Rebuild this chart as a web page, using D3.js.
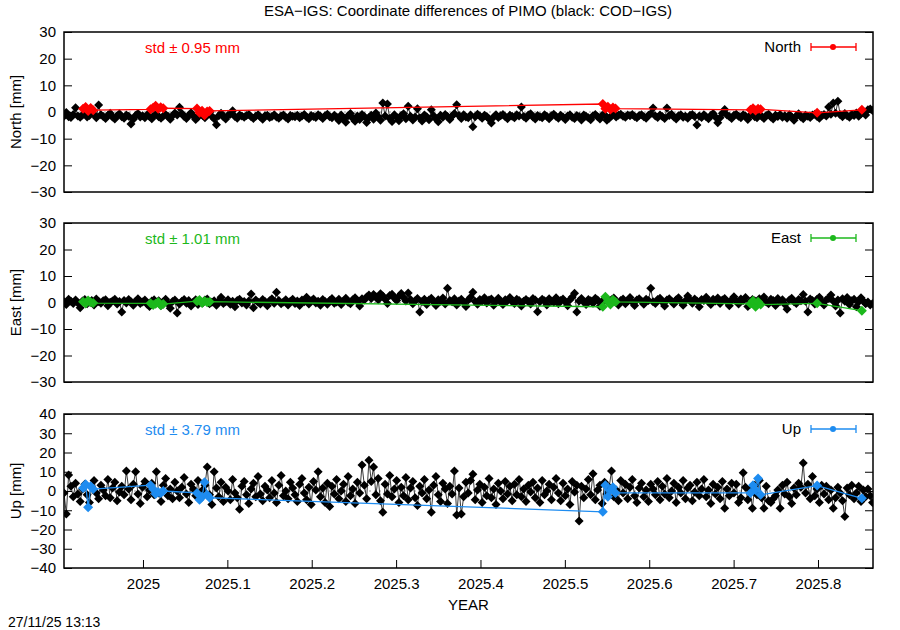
<!DOCTYPE html>
<html>
<head>
<meta charset="utf-8">
<script src="https://cdn.jsdelivr.net/npm/d3@7/dist/d3.min.js"></script>
<style>
  body { margin: 0; background: #fff; }
  text { font-family: "Liberation Sans", Arial, sans-serif; }
</style>
</head>
<body>
<svg id="chart" width="900" height="630"></svg>
<script>
// daily COD-IGS differences (black), first day at startYear
const startYear = 2024.9064;
const endYear = 2025.8652;

const northCod = [
  -1.6,-0.2,-1.8,-2.1,-0.9,1.6,-1.5,-2.0,-1.1,-0.4,-1.9,-1.3,0.2,-0.8,-2.2,2.6,-1.0,-1.7,-2.4,-1.2,-0.5,-1.9,-2.6,-1.4,-0.7,-1.8,-2.3,-1.1,-1.6,-4.5,-2.7,-1.3,-0.6,-1.9,-1.4,-2.2,-1.0,-1.7,-2.5,-1.2,-0.8,-1.8,-2.3,-1.5,-0.9,-1.6,-2.7,-1.3,-0.4,-1.1,
  1.8,-0.6,-1.7,-2.4,-1.2,-0.3,-1.5,-2.8,-1.9,-0.7,-1.3,-2.2,-1.0,-0.2,-1.6,-2.5,-4.8,-1.4,-0.5,-1.8,-2.6,-1.2,-0.8,0.5,-1.7,-2.3,-1.1,-1.5,-2.0,-1.3,-0.9,-1.8,-2.4,-1.6,-1.0,-1.9,-2.7,-1.4,-1.2,-2.1,-1.7,-1.0,-1.9,-2.3,-1.5,-1.1,-2.0,-2.6,-1.3,-1.6,
  -1.8,-1.2,-2.2,-1.5,-0.9,-1.9,-2.5,-1.3,-1.7,-2.1,-1.0,-1.6,-2.4,-1.4,-0.8,-1.8,-2.2,-1.2,-1.9,-3.2,-1.1,-2.6,-3.8,-1.4,-0.6,-2.3,-3.5,-1.5,-2.8,-0.9,-1.7,-3.9,-2.1,-1.2,-2.7,-0.4,-1.8,-3.1,3.4,-1.5,3.0,-2.4,-3.6,-1.0,-2.0,-3.3,-1.3,-0.7,-2.5,2.2,
  -1.6,-3.0,-1.9,1.2,-2.2,-3.4,-1.1,-1.8,-2.9,0.8,-1.4,-2.5,-3.7,-1.2,-2.0,-0.9,-1.7,-2.8,-1.5,-0.6,2.7,-1.3,-2.4,-1.0,-1.9,-2.2,-1.1,-5.5,-1.8,-0.8,-1.5,-2.3,-1.2,-1.7,-2.6,-4.1,-1.9,-1.0,-2.1,-1.4,-0.9,-1.8,-2.5,-1.2,-1.6,-2.2,-1.0,-1.5,1.9,-1.7,
  -2.3,-1.1,-0.7,-1.9,-2.6,-1.3,-1.8,-2.2,-1.0,-1.6,-2.5,-1.4,-0.8,-1.7,-2.3,-1.2,-1.9,-2.8,-1.5,-1.0,-2.0,-2.4,-1.3,-1.7,-3.0,-1.1,-1.6,-2.2,-2.9,-1.4,-0.9,-1.8,-2.6,-1.2,-1.0,-3.1,-2.3,-1.5,-0.6,-1.9,-1.2,-0.8,-1.6,-2.0,-1.1,-1.4,-0.9,-1.7,-2.2,-1.3,
  -1.0,-1.8,-2.3,-1.2,-0.7,1.5,-1.5,-2.1,-1.1,-1.7,-2.4,1.5,-1.3,-0.8,-1.9,-2.6,-1.4,-1.0,-2.0,-1.6,-2.3,-1.2,-0.9,-1.7,-4.9,-1.5,-2.1,-1.0,-1.8,-2.5,-1.3,-0.6,-1.9,-4.0,-2.2,-0.5,0.9,-1.1,-1.7,-2.4,-1.2,-0.8,-1.6,-2.2,-1.0,-1.5,-2.8,-1.3,-0.9,-1.8,
  -2.2,-1.1,-1.6,-2.4,-1.3,-0.8,-1.9,-2.6,-1.2,-1.7,-0.9,-2.0,-1.4,-2.3,-1.0,-1.8,-3.1,-1.5,-0.7,-1.9,-2.5,-1.2,-1.6,-2.1,-1.1,-0.8,-1.7,-2.3,-1.3,-0.9,-1.5,1.9,-0.8,3.4,-0.5,4.0,-1.0,-1.8,-0.6,-1.4,-2.0,-0.9,-1.3,-0.4,-1.6,-0.7,0.2,-1.1,0.8,1.1,0.6
];

const eastCod = [
  0.3,-0.8,1.2,0.5,-0.4,0.9,-0.2,-2.0,0.6,1.1,-0.5,0.2,0.8,-0.9,1.3,0.4,-0.3,0.7,1.0,-1.2,0.1,0.6,1.2,-0.6,0.4,-3.6,0.8,-0.2,1.1,0.3,-1.0,0.5,1.4,-0.4,0.2,0.9,-0.7,-1.5,0.6,1.0,-0.1,0.7,-1.1,0.3,1.2,-0.5,-2.2,0.4,0.9,-4.0,
  -0.6,0.5,1.1,-0.3,0.8,-1.3,0.2,1.0,-0.8,0.4,-0.2,0.9,1.3,-0.5,0.1,0.7,-1.0,0.6,2.0,-0.4,0.3,1.0,-0.7,0.5,-1.6,0.8,1.2,-0.2,0.4,-0.9,0.6,3.2,-2.0,0.9,0.1,-0.6,1.1,0.4,-1.2,0.7,1.4,-0.3,3.9,0.8,-0.5,0.2,1.0,-0.9,0.5,1.2,
  -0.4,0.6,-1.1,0.9,0.3,2.0,-0.6,0.7,1.3,-0.2,0.5,-1.0,1.1,0.4,-0.7,0.8,1.5,-0.3,0.2,1.2,-0.8,0.6,1.6,0.1,-0.5,1.0,1.8,0.4,-1.3,1.4,0.9,2.1,2.8,1.5,3.0,2.2,1.0,3.3,2.5,1.2,-0.4,2.6,3.1,1.7,0.8,2.4,3.4,1.9,0.6,3.6,
  1.1,-0.5,0.7,1.5,-3.6,0.4,1.2,-0.8,0.9,1.6,0.2,-1.1,1.0,0.5,1.7,-0.6,5.4,0.8,0.3,1.4,-0.9,0.6,1.2,0.1,-1.5,0.9,2.0,3.9,0.4,-0.7,1.1,0.6,1.8,-0.2,0.9,1.3,-1.0,0.5,1.6,0.2,-0.8,1.0,0.7,1.9,0.3,-0.4,1.2,0.8,-1.3,0.5,
  1.1,0.4,-0.6,1.5,0.9,-3.5,0.3,1.2,0.7,-0.9,1.4,0.5,0.1,1.8,-0.5,0.8,1.3,0.2,-1.2,1.0,2.1,3.5,-3.6,0.6,1.5,0.2,-0.8,1.1,0.7,-0.3,1.6,0.9,-1.4,0.4,1.2,0.6,-0.2,1.0,1.7,0.3,-0.9,0.8,1.3,-0.5,0.6,1.9,0.2,-1.1,0.9,1.4,
  0.5,-0.7,1.2,0.8,5.4,0.3,-0.4,1.1,1.6,0.2,-1.3,0.9,1.4,0.5,-0.6,1.0,1.8,0.4,-1.0,0.7,2.5,0.9,-0.3,1.3,0.6,-1.6,1.1,0.8,2.0,0.3,-0.8,1.2,0.6,1.7,-0.4,0.9,1.5,0.2,-1.2,1.0,2.2,0.5,-0.6,1.3,0.8,1.9,-1.5,0.4,1.1,0.7,
  -0.9,1.4,0.6,2.1,0.2,-0.5,1.2,0.8,-1.1,1.5,0.4,1.0,-0.7,-2.5,0.9,1.6,0.3,-0.4,1.1,0.7,3.0,0.5,-3.6,1.3,0.8,-0.6,1.2,2.0,0.4,-0.9,1.0,1.5,2.8,0.6,-1.3,0.9,-4.0,1.4,0.5,1.9,-0.8,0.7,1.2,-1.6,0.3,1.8,0.6,-0.5,0.2,-0.9,-0.4
];

const upCod = [
  -1.0,-12.0,8.3,2.5,-3.0,4.0,-1.5,-5.5,1.0,3.5,-2.0,-6.0,2.0,5.5,-1.0,-4.0,3.0,0.5,-2.5,6.0,-3.5,1.5,4.5,-5.0,-0.5,2.5,-2.0,10.4,1.0,-4.5,3.5,10.0,-1.5,-6.5,2.0,5.0,-3.0,0.5,4.0,-2.0,10.0,-1.0,-5.5,3.0,6.5,-2.5,1.0,-4.0,4.5,0.0,
  -3.5,2.0,7.0,-1.5,-6.0,3.5,1.0,-2.5,5.5,-4.0,0.5,3.0,12.5,-2.0,-7.0,10.0,1.5,-3.0,4.5,-5.5,2.0,0.0,-4.5,6.0,-1.0,-3.5,-9.5,2.5,5.0,-2.0,-6.5,1.0,4.0,-3.0,7.5,-1.5,-5.0,2.5,0.5,-3.5,5.5,-1.0,-6.0,3.0,8.0,-2.5,0.0,-4.0,4.5,1.5,
  -2.0,-5.5,3.5,6.5,-1.0,-4.5,2.0,-7.0,5.0,0.5,10.0,-3.0,1.5,-6.0,4.0,-8.0,2.5,-1.5,6.0,-4.0,0.0,3.5,-5.5,7.5,-2.5,1.0,-6.5,4.5,-1.0,13.5,3.0,-4.0,16.0,5.0,12.5,-2.0,6.5,-5.0,-11.0,3.5,-1.5,8.0,-3.0,1.0,5.5,-6.0,2.0,-2.5,7.0,-4.5,
  1.5,5.0,-3.5,-7.5,2.5,-1.0,6.0,-4.0,0.5,-11.0,3.0,7.5,-2.0,-5.5,4.0,1.0,-6.5,2.5,-1.5,10.4,-12.5,1.5,-12.0,-3.0,4.5,-1.0,5.5,8.7,-4.5,0.5,3.5,-6.0,2.0,-2.5,6.5,-3.5,1.0,-7.0,4.0,0.0,-4.0,5.0,-1.5,2.5,-5.0,3.5,-2.0,6.0,-3.0,1.0,
  -5.5,3.0,-0.5,4.5,-3.5,1.5,-6.0,5.5,-2.0,0.0,3.5,-4.5,2.0,6.5,-1.0,-5.0,4.0,-2.5,1.0,-7.0,5.0,-0.5,3.0,-15.6,2.5,-3.5,1.0,6.0,-2.0,9.0,-4.5,0.5,3.0,-6.5,4.5,-1.5,2.0,10.4,-3.0,0.5,-5.0,5.5,-1.0,3.5,-4.0,2.0,6.0,-2.5,-6.0,1.5,
  4.0,-3.0,0.5,-5.5,3.5,1.0,-2.0,5.0,-4.5,2.5,-1.5,6.5,-3.5,0.0,4.0,-6.0,2.0,-1.0,5.5,-4.0,1.5,3.0,-5.0,-0.5,4.5,-2.5,1.0,6.0,-3.0,0.5,-6.5,3.5,-1.5,2.0,-4.0,5.0,-9.0,1.0,-2.5,4.0,-1.0,3.5,-6.0,-3.5,9.5,2.0,-4.5,0.5,-9.0,3.0,
  -2.0,5.5,-3.5,-9.0,2.5,-5.0,-6.0,-4.0,-2.5,0.5,-9.0,3.0,-1.5,4.5,-3.0,-6.5,1.5,-2.0,4.0,2.0,14.5,-1.0,3.5,-4.0,7.5,-2.5,1.0,-6.0,3.0,-1.5,2.5,-4.5,0.5,-9.0,-3.5,2.0,-1.0,-5.0,-13.3,1.5,-2.0,3.0,-4.0,-1.0,2.5,-5.5,0.5,-3.0,1.0,-2.5,-6.0
];

// ESA-IGS differences (coloured), sparse epochs
const esaDates = [
  2024.929, 2024.932, 2024.935, 2024.938, 2024.941,
  2025.009, 2025.012, 2025.015, 2025.018, 2025.021, 2025.024,
  2025.064, 2025.067, 2025.070, 2025.073, 2025.076, 2025.079,
  2025.545, 2025.548, 2025.551, 2025.554, 2025.557, 2025.560,
  2025.720, 2025.723, 2025.726, 2025.729, 2025.732,
  2025.799,
  2025.852
];
const northEsa = [
  1.2, 1.9, 0.4, 1.5, 0.7,
  1.0, 1.6, 2.3, 1.2, 1.8, 1.4,
  1.3, -0.3, 0.5, -1.2, 0.2, 0.4,
  3.0, 1.2, 2.0, 0.9, 1.7, 1.3,
  0.8, 1.4, 0.6, 1.2, 1.0,
  -0.3,
  0.8
];
const eastEsa = [
  0.3, -0.4, 0.8, 0.1, -0.2,
  -0.3, -0.9, -0.5, 0.2, -1.0, -0.6,
  0.5, 0.9, -0.2, 0.6, 0.1, 0.3,
  -1.6, 2.2, 0.4, -0.8, 1.0, 0.2,
  -0.5, 0.7, -1.6, 0.3, -0.8,
  -0.3,
  -3.1
];
const upEsa = [
  1.5, 3.5, -8.5, 2.5, 1.0,
  3.0, 1.0, -1.5, -0.5, -1.0, 0.0,
  -1.0, -4.5, -3.0, 4.5, -2.0, -3.5,
  -10.8, 3.0, -3.0, 0.5, 2.0, -1.0,
  -1.0, 3.0, 0.5, 6.5, -2.0,
  2.8,
  -3.8
];

const componentNames = ["North", "East", "Up"];
const stdLabels = ["std \u00b1 0.95 mm", "std \u00b1 1.01 mm", "std \u00b1 3.79 mm"];
const yTicksNE = [-30, -20, -10, 0, 10, 20, 30];
const yTicksUp = [-40, -30, -20, -10, 0, 10, 20, 30, 40];
const xTicks = [2025, 2025.1, 2025.2, 2025.3, 2025.4, 2025.5, 2025.6, 2025.7, 2025.8];

const svg = d3.select("#chart");
const width = +svg.attr("width");
const plotLeft = 64, plotRight = 873;
const tickLen = 8;
const fontSize = "15px";

const panels = [
  {name: componentNames[0], top: 32, bottom: 192, domain: [-30, 30], ticks: yTicksNE, cod: northCod, esa: northEsa, std: stdLabels[0], color: "#ff0000"},
  {name: componentNames[1], top: 223, bottom: 382, domain: [-30, 30], ticks: yTicksNE, cod: eastCod, esa: eastEsa, std: stdLabels[1], color: "#1cb81c"},
  {name: componentNames[2], top: 414, bottom: 568, domain: [-40, 40], ticks: yTicksUp, cod: upCod, esa: upEsa, std: stdLabels[2], color: "#1e8cf0"}
];

const x = d3.scaleLinear().domain([startYear, endYear]).range([plotLeft, plotRight]);
const fmtYear = d => String(Math.round(d * 10) / 10);

const diamond = s => `M0,${-s}L${s},0L0,${s}L${-s},0Z`;

function styleAxis(g, showLabels) {
  g.select(".domain").remove();
  g.selectAll(".tick line").attr("stroke", "#000").attr("stroke-width", 1);
  g.selectAll(".tick text")
    .attr("fill", "#000")
    .style("font-size", fontSize)
    .style("font-family", "'Liberation Sans', Arial, sans-serif");
  if (!showLabels) g.selectAll(".tick text").remove();
}

function drawPanel(p, isLast) {
  const y = d3.scaleLinear().domain(p.domain).range([p.bottom, p.top]);
  const g = svg.append("g");
  const clipId = "clip-" + p.name;

  svg.append("clipPath").attr("id", clipId)
    .append("rect")
      .attr("x", plotLeft).attr("y", p.top)
      .attr("width", plotRight - plotLeft).attr("height", p.bottom - p.top);

  // zero line
  g.append("line")
    .attr("x1", plotLeft).attr("x2", plotRight)
    .attr("y1", y(0)).attr("y2", y(0))
    .attr("stroke", "#999").attr("stroke-width", 1)
    .attr("stroke-dasharray", "2,3");

  const data = g.append("g").attr("clip-path", `url(#${clipId})`);

  const codPoints = p.cod.map((v, i) => ({t: startYear + i / 365.25, v: v}));
  const line = d3.line().x(d => x(d.t)).y(d => y(d.v));

  data.append("path")
    .datum(codPoints)
    .attr("d", line)
    .attr("fill", "none")
    .attr("stroke", "#222")
    .attr("stroke-width", 0.9);

  data.selectAll(".cod")
    .data(codPoints)
    .enter()
    .append("path")
      .attr("class", "cod")
      .attr("transform", d => `translate(${x(d.t)},${y(d.v)})`)
      .attr("d", diamond(4.5))
      .attr("fill", "#000");

  const esaPoints = esaDates.map((t, i) => ({t: t, v: p.esa[i]}));
  data.append("path")
    .datum(esaPoints)
    .attr("d", line)
    .attr("fill", "none")
    .attr("stroke", p.color)
    .attr("stroke-width", 1.3);

  data.selectAll(".esa")
    .data(esaPoints)
    .enter()
    .append("path")
      .attr("class", "esa")
      .attr("transform", d => `translate(${x(d.t)},${y(d.v)})`)
      .attr("d", diamond(5))
      .attr("fill", p.color);

  // axes, ticks inward
  const left = g.append("g")
    .attr("transform", `translate(${plotLeft},0)`)
    .call(d3.axisLeft(y).tickValues(p.ticks).tickSize(-tickLen).tickPadding(8).tickFormat(d3.format("d")));
  styleAxis(left, true);

  const right = g.append("g")
    .attr("transform", `translate(${plotRight},0)`)
    .call(d3.axisRight(y).tickValues(p.ticks).tickSize(-tickLen));
  styleAxis(right, false);

  if (isLast) {
    const bottom = g.append("g")
      .attr("transform", `translate(0,${p.bottom})`)
      .call(d3.axisBottom(x).tickValues(xTicks).tickSize(-tickLen).tickPadding(10).tickFormat(fmtYear));
    styleAxis(bottom, true);
  }

  g.append("rect")
    .attr("x", plotLeft).attr("y", p.top)
    .attr("width", plotRight - plotLeft).attr("height", p.bottom - p.top)
    .attr("fill", "none").attr("stroke", "#000").attr("stroke-width", 1.5);

  // y label
  g.append("text")
    .attr("transform", `translate(21,${(p.top + p.bottom) / 2}) rotate(-90)`)
    .attr("text-anchor", "middle")
    .style("font-size", fontSize)
    .text(p.name + " [mm]");

  // std annotation
  g.append("text")
    .attr("x", 145).attr("y", p.top + 21)
    .attr("fill", p.color)
    .style("font-size", fontSize)
    .text(p.std);

  // legend
  const ly = p.top + 15;
  const leg = g.append("g");
  leg.append("text")
    .attr("x", 801).attr("y", ly + 5)
    .attr("text-anchor", "end")
    .style("font-size", fontSize)
    .text(p.name);
  leg.append("line").attr("x1", 811).attr("x2", 856).attr("y1", ly).attr("y2", ly)
    .attr("stroke", p.color).attr("stroke-width", 1.3);
  [811, 856].forEach(cx => leg.append("line")
    .attr("x1", cx).attr("x2", cx).attr("y1", ly - 4).attr("y2", ly + 4)
    .attr("stroke", p.color).attr("stroke-width", 1.3));
  leg.append("circle").attr("cx", 833).attr("cy", ly).attr("r", 3).attr("fill", p.color);
}

panels.forEach((p, i) => drawPanel(p, i === panels.length - 1));

svg.append("text")
  .attr("x", width / 2 + 18).attr("y", 16)
  .attr("text-anchor", "middle")
  .style("font-size", fontSize)
  .text("ESA\u2212IGS: Coordinate differences of PIMO (black: COD\u2212IGS)");

svg.append("text")
  .attr("x", (plotLeft + plotRight) / 2).attr("y", 610)
  .attr("text-anchor", "middle")
  .style("font-size", fontSize)
  .text("YEAR");

svg.append("text")
  .attr("x", 8).attr("y", 627)
  .style("font-size", "14px")
  .text("27/11/25 13:13");
</script>
</body>
</html>
